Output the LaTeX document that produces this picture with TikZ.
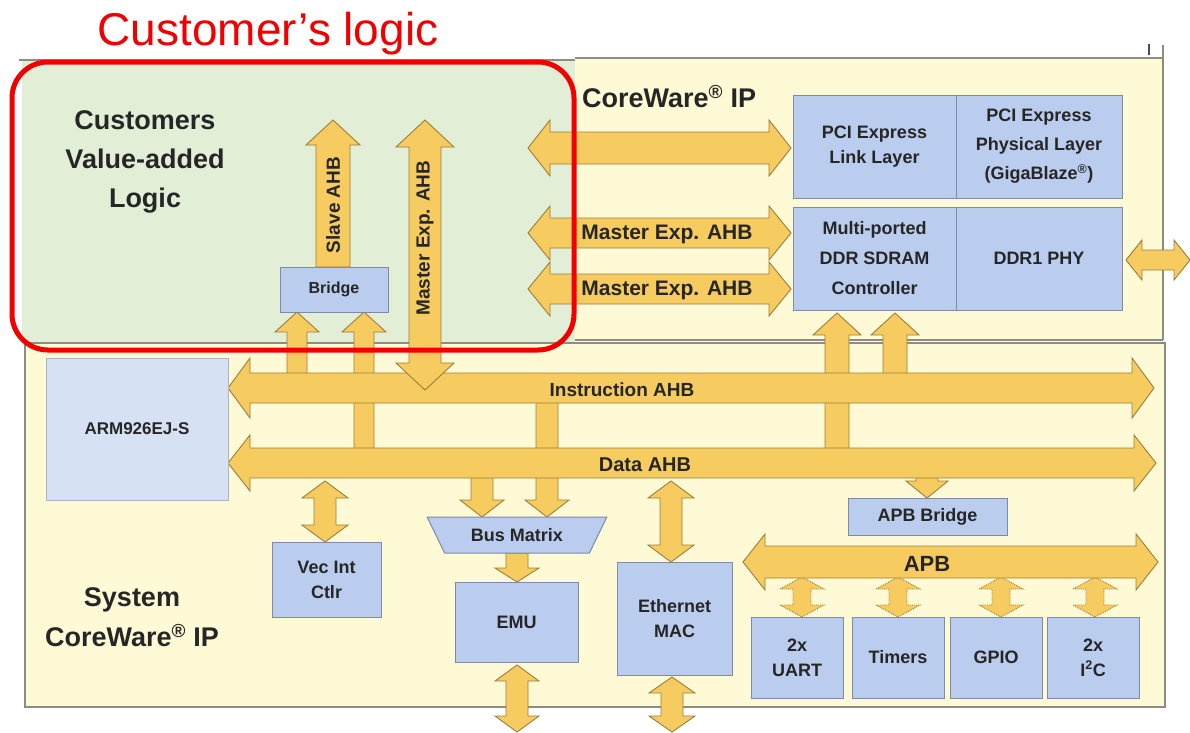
\documentclass[tikz,border=0pt]{standalone}
\usepackage{fontspec}
\setmainfont{Liberation Sans}
\usetikzlibrary{shapes.geometric}
\definecolor{bgyellow}{HTML}{FFFAD6}
\definecolor{bggreen}{HTML}{E2EFD6}
\definecolor{boxblue}{HTML}{BACDEF}
\definecolor{boxedge}{HTML}{7F8AA6}
\definecolor{armblue}{HTML}{D6E2F4}
\definecolor{arrfill}{HTML}{F6CB60}
\definecolor{arredge}{HTML}{9C7E3C}
\definecolor{txt}{HTML}{262626}
\definecolor{framec}{HTML}{8C8C80}
\definecolor{redline}{HTML}{F20000}
\newcommand\fsz[2]{\fontsize{#1}{#2}\selectfont\bfseries}
% horizontal double block arrow: [style] x1 x2 y h H L
\newcommand\HDArrow[7][]{\draw[arr,#1] (#2,#4) -- (#2+#7,#4-#6) -- (#2+#7,#4-#5) -- (#3-#7,#4-#5) -- (#3-#7,#4-#6) -- (#3,#4) -- (#3-#7,#4+#6) -- (#3-#7,#4+#5) -- (#2+#7,#4+#5) -- (#2+#7,#4+#6) -- cycle;}
% vertical double block arrow: [style] x ytop ybottom h H L
\newcommand\VDArrow[7][]{\draw[arr,#1] (#2,#3) -- (#2+#6,#3+#7) -- (#2+#5,#3+#7) -- (#2+#5,#4-#7) -- (#2+#6,#4-#7) -- (#2,#4) -- (#2-#6,#4-#7) -- (#2-#5,#4-#7) -- (#2-#5,#3+#7) -- (#2-#6,#3+#7) -- cycle;}
% vertical up arrow: tip at ytop, flat end at ybottom
\newcommand\VUArrow[7][]{\draw[arr,#1] (#2,#3) -- (#2+#6,#3+#7) -- (#2+#5,#3+#7) -- (#2+#5,#4) -- (#2-#5,#4) -- (#2-#5,#3+#7) -- (#2-#6,#3+#7) -- cycle;}
% vertical down arrow: flat end at ytop, tip at ybottom
\newcommand\VDnArrow[7][]{\draw[arr,#1] (#2-#5,#3) -- (#2+#5,#3) -- (#2+#5,#4-#7) -- (#2+#6,#4-#7) -- (#2,#4) -- (#2-#6,#4-#7) -- (#2-#5,#4-#7) -- cycle;}
\tikzset{
  arr/.style={fill=arrfill, draw=arredge, line width=0.9pt, line join=miter},
  bx/.style={draw=boxedge, fill=boxblue, line width=1pt, text=txt, align=center, inner sep=0pt, font=\fsz{18}{25}},
  lbl/.style={text=txt, align=center, inner sep=0pt},
  frameline/.style={draw=framec, line width=1.4pt}
}
\begin{document}
\begin{tikzpicture}[x=1pt,y=-1pt]
\useasboundingbox (0,0) rectangle (1190,732);
\fill[white] (0,0) rectangle (1190,732);
% regions
\fill[bggreen] (22,60) rectangle (575,343);
\fill[bgyellow] (575,58) rectangle (1163,340);
\fill[bgyellow] (25,343) rectangle (1165,707);
\draw[frameline] (19,60) -- (575,60);
\draw[frameline] (575,58) -- (1163,58);
\draw[frameline] (1163,45) -- (1163,340);
\draw[frameline] (575,340) -- (1163,340);
\draw[frameline] (25,343) rectangle (1165,707);
\draw[line width=2.5pt, draw=black!70] (1149,44) -- (1149,55);

% arrows below buses
\VUArrow{297}{312}{388}{10}{22}{20}
\VUArrow{364}{312}{463}{10}{22}{20}
\VUArrow{837}{313}{463}{12}{24}{22}
\VUArrow{895}{313}{388}{12}{24}{22}
\VDnArrow{482}{463}{517}{11}{22}{17}
\VDnArrow{547}{388}{517}{11}{22}{17}
\VDnArrow{927}{463}{498}{11}{21}{17}
\VDArrow{325}{481}{542}{11}{23}{17}
\VDArrow{671}{481}{562}{11}{23}{17}
% buses
\HDArrow{228}{1154}{388}{15}{30}{22}
\HDArrow{228}{1156}{463}{15}{28}{22}
\node[lbl, font=\fsz{19}{22}] (instr) at (622,390) {Instruction AHB};
\node[lbl, font=\fsz{20}{22}] (data) at (645,465) {Data AHB};
% customer vertical arrows
\VUArrow{333}{120}{267}{17}{27}{25}
\VDArrow{425}{120}{390}{16}{29}{27}
\node[lbl, font=\fsz{19}{22}, rotate=90] (slave) at (333,205) {Slave AHB};
\node[lbl, font=\fsz{19}{22}, rotate=90] (mexpv) at (425,238) {Master Exp. AHB};
% top horizontal arrows
\HDArrow{528}{791}{148}{16}{28}{22}
\HDArrow{528}{791}{233}{15}{27}{22}
\HDArrow{528}{791}{289}{15}{27}{22}
\node[lbl, font=\fsz{21}{24}] (mexp1) at (667,234) {Master Exp. AHB};
\node[lbl, font=\fsz{21}{24}] (mexp2) at (667,290) {Master Exp. AHB};
\HDArrow{1126}{1190}{260}{10}{20}{16}
% other vertical arrows
\VDnArrow{517}{553}{582}{11}{22}{14}
\VDArrow{517}{665}{732}{11}{22}{16}
\VDArrow{672}{677}{732}{11}{23}{16}

% boxes
\node[bx, minimum width=163, minimum height=103] (pcil) at (874.5,146.5) {PCI Express\\Link Layer};
\node[bx, minimum width=166, minimum height=103, font=\fsz{18}{29}] (pcip) at (1039,146.5) {PCI Express\\Physical Layer\\(GigaBlaze\textsuperscript{®})};
\node[bx, minimum width=163, minimum height=103, font=\fsz{18}{30}] (ddrc) at (874.5,258.5) {Multi-ported\\DDR SDRAM\\Controller};
\node[bx, minimum width=166, minimum height=103] (ddrp) at (1039,258.5) {DDR1 PHY};
\node[bx, minimum width=108, minimum height=45, font=\fsz{16}{20}] (bridge) at (334,289.5) {Bridge};
\node[bx, fill=armblue, draw=armblue!80!black, minimum width=182, minimum height=142, font=\fsz{17}{22}] (arm) at (137,429) {ARM926EJ-S};
\node[bx, minimum width=159, minimum height=37] (apbb) at (927.5,516.5) {APB Bridge};
\node[bx, minimum width=109, minimum height=75] (vic) at (326.5,579.5) {Vec Int\\Ctlr};
\node[bx, trapezium, shape border rotate=180, trapezium stretches=true, minimum width=180, minimum height=36, trapezium left angle=50, trapezium right angle=50] (busm) at (517,535) {Bus Matrix};
\node[bx, minimum width=123, minimum height=80] (emu) at (516.5,622) {EMU};
\node[bx, minimum width=115, minimum height=113] (eth) at (674.5,618.5) {Ethernet\\MAC};
\node[bx, minimum width=92, minimum height=81] (uart) at (797,657.5) {2x\\UART};
\node[bx, minimum width=92, minimum height=81] (tim) at (898,657.5) {Timers};
\node[bx, minimum width=92, minimum height=81] (gpio) at (996,657.5) {GPIO};
\node[bx, minimum width=92, minimum height=81] (iic) at (1093,657.5) {2x\\I\textsuperscript{2}C};

% APB bus and peripheral links
\VDArrow[densely dotted]{802}{577}{617}{9}{22}{12}
\VDArrow[densely dotted]{898}{577}{617}{9}{22}{12}
\VDArrow[densely dotted]{1001}{577}{617}{9}{22}{12}
\VDArrow[densely dotted]{1095}{577}{617}{9}{22}{12}
\HDArrow{743}{1158}{562}{16}{28}{22}
\node[lbl, font=\fsz{22}{24}] (apb) at (927,564) {APB};

% region titles
\node[lbl, font=\fsz{27}{39}] (cust) at (145,162) {Customers\\Value-added\\Logic};
\node[lbl, font=\fsz{27}{32}, anchor=west] (cw) at (582,97) {CoreWare\textsuperscript{®} IP};
\node[lbl, font=\fsz{27}{40}] (sys) at (132,617) {System\\CoreWare\textsuperscript{®} IP};

% customer's logic highlight
\draw[draw=redline, line width=5pt, rounded corners=36pt] (12,62) rectangle (574,350);
\node[text=redline, inner sep=0pt, anchor=base, font=\fontsize{46}{50}\selectfont] (title) at (268,45) {Customer’s logic};
\end{tikzpicture}
\end{document}
